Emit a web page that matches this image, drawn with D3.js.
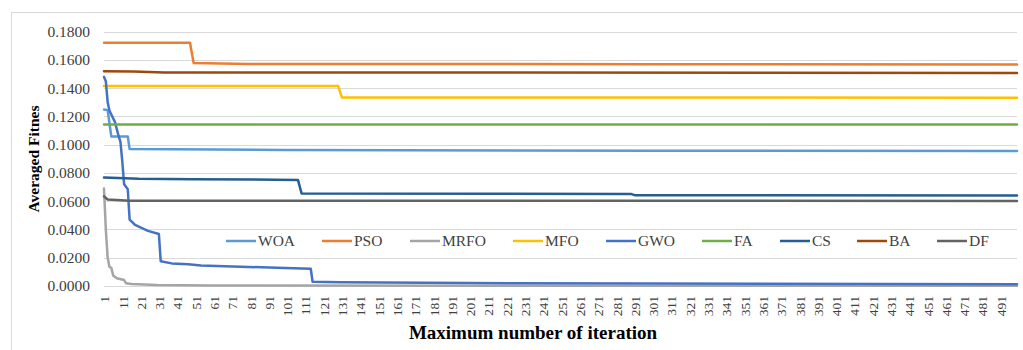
<!DOCTYPE html>
<html><head><meta charset="utf-8">
<script src="https://cdn.jsdelivr.net/npm/d3@7"></script>
<style>
html,body{margin:0;padding:0;background:#fff;}
svg{display:block;}
</style></head>
<body>
<svg id="chart" width="1023" height="350"></svg>
<script>
// ---- data: [iteration, averaged fitness] key points ----
const seriesNames = ["WOA","PSO","MRFO","MFO","GWO","FA","CS","BA","DF"];
const seriesColors = ["#5B9BD5","#ED7D31","#A5A5A5","#FFC000","#4472C4","#70AD47","#255E91","#9E480E","#636363"];

const WOA = [[1,0.1250],[3,0.1245],[5,0.1058],[14,0.1058],[15,0.0970],[100,0.0963],[300,0.0958],[500,0.0955]];
const PSO = [[1,0.1722],[48,0.1722],[50,0.1578],[80,0.1572],[300,0.1570],[500,0.1568]];
const MRFO = [[1,0.0690],[2,0.0400],[3,0.0200],[4,0.0135],[5,0.0128],[6,0.0075],[8,0.0055],[12,0.0042],[13,0.0020],[16,0.0014],[30,0.0007],[60,0.0003],[500,0.0001]];
const MFO = [[1,0.1415],[129,0.1415],[131,0.1335],[500,0.1333]];
const GWO = [[1,0.1480],[2,0.1450],[3,0.1300],[4,0.1240],[7,0.1160],[9,0.1060],[10,0.1020],[11,0.0880],[12,0.0720],[14,0.0685],[15,0.0470],[18,0.0432],[25,0.0390],[31,0.0368],[32,0.0175],[38,0.0160],[47,0.0154],[54,0.0145],[80,0.0135],[100,0.0128],[114,0.0122],[115,0.0030],[130,0.0026],[200,0.0021],[300,0.0017],[500,0.0013]];
const FA = [[1,0.1144],[500,0.1144]];
const CS = [[1,0.0768],[20,0.0760],[50,0.0756],[107,0.0751],[109,0.0655],[289,0.0652],[291,0.0643],[500,0.0640]];
const BA = [[1,0.1520],[17,0.1518],[34,0.1512],[500,0.1508]];
const DF = [[1,0.0635],[3,0.0612],[15,0.0604],[500,0.0602]];

const seriesData = [WOA, PSO, MRFO, MFO, GWO, FA, CS, BA, DF];

const yTicks = [0,0.02,0.04,0.06,0.08,0.10,0.12,0.14,0.16,0.18];
const xTickLabels = [1,11,21,31,41,51,61,71,81,91,101,111,121,131,141,151,161,171,181,191,201,211,221,231,241,251,261,271,281,291,301,311,321,331,341,351,361,371,381,391,401,411,421,431,441,451,461,471,481,491];

const svg = d3.select("#chart");
const font = "'Liberation Serif','Times New Roman',serif";

// chart border
svg.append("rect").attr("x",11.5).attr("y",12.5).attr("width",1040).attr("height",360)
  .attr("fill","none").attr("stroke","#d9d9d9").attr("stroke-width",1);

const x = d3.scaleLinear().domain([1,500]).range([104,1017]);
const y = d3.scaleLinear().domain([0,0.18]).range([286,31.7]);

// gridlines
svg.append("g").selectAll("line").data(yTicks).join("line")
  .attr("x1",x.range()[0]).attr("x2",x.range()[1])
  .attr("y1",d=>Math.round(y(d))+0.5).attr("y2",d=>Math.round(y(d))+0.5)
  .attr("stroke","#d9d9d9").attr("stroke-width",1);

// y axis labels
const yAxis = d3.axisLeft(y).tickValues(yTicks).tickFormat(d3.format(".4f")).tickSize(0).tickPadding(14);
const gy = svg.append("g").attr("transform","translate(104,0)").call(yAxis);
gy.select(".domain").remove();
gy.selectAll("text").attr("font-family",font).attr("font-size","15.5px").attr("fill","#404040");

// x axis labels (rotated)
const xAxis = d3.axisBottom(x).tickValues(xTickLabels).tickSize(0).tickFormat(d=>String(d));
const gx = svg.append("g").attr("transform","translate(0,286)").call(xAxis);
gx.select(".domain").remove();
gx.selectAll("text")
  .attr("font-family",font).attr("font-size","13.5px").attr("fill","#404040")
  .attr("text-anchor","end").attr("transform","translate(0,10) rotate(-90)")
  .attr("x",0).attr("y",0).attr("dy","0.35em");

// lines
const line = d3.line().x(d=>x(d[0])).y(d=>y(d[1]));
svg.append("g").selectAll("path").data(seriesData).join("path")
  .attr("d",line).attr("fill","none")
  .attr("stroke",(d,i)=>seriesColors[i]).attr("stroke-width",2.5)
  .attr("stroke-linejoin","round").attr("stroke-linecap","round");

// legend
const legendX = [226,322,410,513,606,702,780,857,937];
const lg = svg.append("g").selectAll("g").data(seriesNames).join("g")
  .attr("transform",(d,i)=>`translate(${legendX[i]},241)`);
lg.append("line").attr("x1",0).attr("x2",30).attr("y1",0).attr("y2",0)
  .attr("stroke",(d,i)=>seriesColors[i]).attr("stroke-width",2.5);
lg.append("text").attr("x",32).attr("y",0).attr("dy","0.35em")
  .attr("font-family",font).attr("font-size","15.5px").attr("fill","#404040").text(d=>d);

// axis titles
svg.append("text").attr("transform","translate(39,159) rotate(-90)")
  .attr("text-anchor","middle").attr("font-family",font).attr("font-size","15.5px")
  .attr("font-weight","bold").attr("fill","#000").text("Averaged Fitnes");
svg.append("text").attr("x",533).attr("y",339)
  .attr("text-anchor","middle").attr("font-family",font).attr("font-size","19px")
  .attr("font-weight","bold").attr("fill","#000").text("Maximum number of iteration");
</script>
</body></html>
